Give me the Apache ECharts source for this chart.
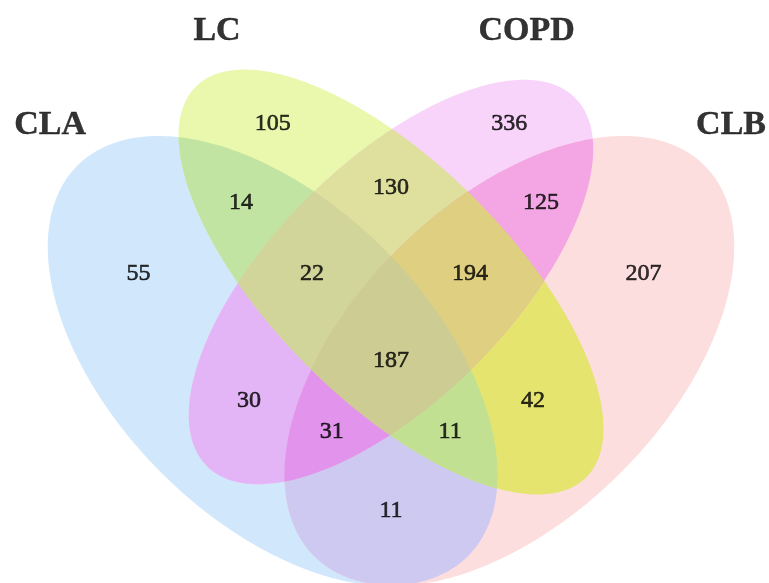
<!DOCTYPE html>
<html>
<head>
<meta charset="utf-8">
<script src="https://cdn.jsdelivr.net/npm/echarts@6/dist/echarts.min.js"></script>
<style>
  html, body { margin: 0; padding: 0; background: #ffffff; }
  #chart { width: 769px; height: 583px; }
</style>
</head>
<body>
<div id="chart"></div>
<script>
// ---- data ----
const setNames = ['CLA', 'LC', 'COPD', 'CLB'];
// bit flags: CLA = 1, LC = 2, COPD = 4, CLB = 8 (ordered by how many sets a region belongs to)
const regionMasks  = [1, 2, 4, 8, 3, 5, 9, 6, 10, 12, 7, 11, 13, 14, 15];
const regionCounts = [55, 105, 336, 207, 14, 30, 11, 130, 42, 125, 22, 11, 31, 194, 187];

// ---- layout (diagram units, y pointing up) ----
const ellipses = [
  { cx: 0.35, cy: 0.47, a: 0.35, b: 0.20, angle: -45 },  // CLA
  { cx: 0.50, cy: 0.57, a: 0.35, b: 0.15, angle: -45 },  // LC
  { cx: 0.50, cy: 0.57, a: 0.33, b: 0.15, angle: 45 },   // COPD
  { cx: 0.65, cy: 0.47, a: 0.35, b: 0.20, angle: 45 }    // CLB
];
const regionLabelPos = [
  [0.18, 0.58], [0.35, 0.77], [0.65, 0.77], [0.82, 0.58],
  [0.31, 0.67], [0.32, 0.42], [0.50, 0.28], [0.50, 0.69], [0.68, 0.42], [0.69, 0.67],
  [0.40, 0.58], [0.575, 0.38], [0.425, 0.38], [0.60, 0.58],
  [0.50, 0.47]
];
const setLabelPos = [[0.068, 0.769], [0.2795, 0.888], [0.672, 0.888], [0.931, 0.769]];
const xRange = [0.5 - 391 / 789, 0.5 + 378 / 789];
const yRange = [0.57 - 301 / 789, 0.57 + 282 / 789];

// ---- styles ----
const regionColors = [
  '#d1e7fc', '#e9f8ac', '#f9d4fa', '#fddede',
  '#c2e4a2', '#e4b5f6', '#cdc9f1', '#dfdf9e', '#e4e46f', '#f4a6e4',
  '#d1d599', '#c1e092', '#e294ec', '#dfcf80',
  '#cdcd93'
];

// ---- geometry helpers ----
function ellipsePoly(e, n) {
  const t0 = e.angle * Math.PI / 180, ux = Math.cos(t0), uy = Math.sin(t0);
  const pts = [];
  for (let i = 0; i < n; i++) {
    const t = 2 * Math.PI * i / n;
    const ca = e.a * Math.cos(t), sb = e.b * Math.sin(t);
    pts.push([e.cx + ca * ux - sb * uy, e.cy + ca * uy + sb * ux]);
  }
  return pts;
}
// Sutherland-Hodgman clip of a polygon by a convex counter-clockwise polygon
function clip(subject, clipPoly) {
  let out = subject;
  for (let i = 0; i < clipPoly.length && out.length; i++) {
    const A = clipPoly[i], B = clipPoly[(i + 1) % clipPoly.length];
    const side = p => (B[0] - A[0]) * (p[1] - A[1]) - (B[1] - A[1]) * (p[0] - A[0]);
    const input = out;
    out = [];
    for (let j = 0; j < input.length; j++) {
      const P = input[j], Q = input[(j + 1) % input.length];
      const sp = side(P), sq = side(Q);
      if (sp >= 0) out.push(P);
      if ((sp >= 0) !== (sq >= 0)) {
        const t = sp / (sp - sq);
        out.push([P[0] + t * (Q[0] - P[0]), P[1] + t * (Q[1] - P[1])]);
      }
    }
  }
  return out;
}
const ellipsePolys = ellipses.map(e => ellipsePoly(e, 360));
// Intersection of all sets in a mask; drawn in order of membership size,
// each region's own colour ends up on top of exactly that region.
const intersectionPolys = regionMasks.map(m => {
  const idx = [0, 1, 2, 3].filter(k => m & (1 << k));
  let poly = ellipsePolys[idx[0]];
  for (let k = 1; k < idx.length; k++) poly = clip(poly, ellipsePolys[idx[k]]);
  return poly;
});

const chart = echarts.init(document.getElementById('chart'), null, { renderer: 'canvas' });
chart.setOption({
  animation: false,
  backgroundColor: '#ffffff',
  grid: { left: 0, right: 0, top: 0, bottom: 0 },
  xAxis: { type: 'value', min: xRange[0], max: xRange[1], show: false },
  yAxis: { type: 'value', min: yRange[0], max: yRange[1], show: false },
  series: [
    {
      type: 'custom',
      silent: true,
      data: regionMasks.map((m, i) => [regionLabelPos[i][0], regionLabelPos[i][1], i]),
      renderItem: function (params, api) {
        const i = api.value(2);
        const pts = intersectionPolys[i].map(p => api.coord(p));
        return {
          type: 'polygon',
          shape: { points: pts },
          style: { fill: regionColors[i], stroke: null }
        };
      },
      z: 1
    },
    {
      type: 'scatter',
      silent: true,
      symbolSize: 0,
      data: regionCounts.map((c, i) => [regionLabelPos[i][0], regionLabelPos[i][1], c]),
      label: {
        show: true,
        position: 'inside',
        formatter: p => String(p.value[2]),
        fontFamily: 'Liberation Serif',
        fontSize: 24,
        color: '#000000',
        textBorderColor: '#000000',
        textBorderWidth: 0.6
      },
      z: 3
    },
    {
      type: 'scatter',
      silent: true,
      symbolSize: 0,
      data: setNames.map((n, i) => ({ value: setLabelPos[i], name: n })),
      label: {
        show: true,
        position: 'inside',
        formatter: p => p.name,
        fontFamily: 'Liberation Serif',
        fontWeight: 'bold',
        fontSize: 34,
        color: '#000000',
        textBorderColor: '#000000',
        textBorderWidth: 0.4
      },
      z: 3
    }
  ]
});
</script>
</body>
</html>
